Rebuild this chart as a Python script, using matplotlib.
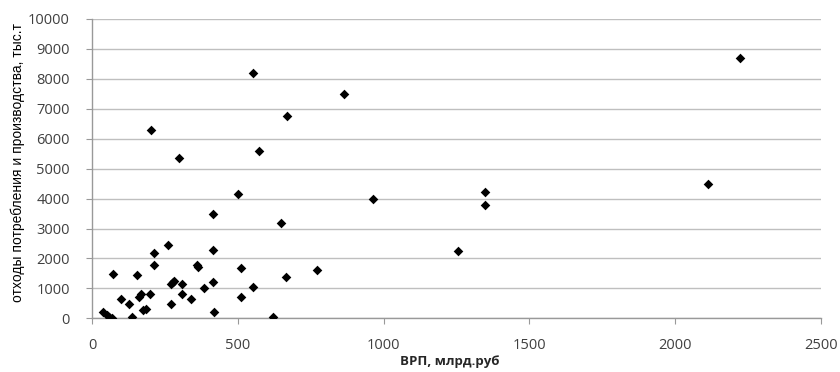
import matplotlib

matplotlib.use("Agg")
from matplotlib import pyplot as plt
from matplotlib import font_manager

# ВРП региона, млрд руб
grp = [
    2222, 553, 864, 202, 669, 574, 300, 500, 965, 1348,
    1348, 2113, 414, 649, 262, 416, 1256, 213, 211, 361,
    365, 510, 770, 73, 153, 666, 270, 281, 277, 307,
    416, 384, 553, 168, 162, 199, 307, 98, 128, 270,
    340, 510, 176, 185, 419, 622, 39, 50, 60, 67,
    136,
]
# отходы потребления и производства, тыс. т
waste = [
    8700, 8200, 7500, 6280, 6750, 5580, 5370, 4150, 3980, 4220,
    3800, 4500, 3480, 3170, 2450, 2290, 2250, 2170, 1780, 1790,
    1730, 1690, 1630, 1480, 1440, 1380, 1160, 1250, 1200, 1130,
    1200, 1010, 1050, 800, 720, 800, 810, 660, 480, 480,
    640, 720, 280, 310, 200, 50, 220, 110, 40, 10,
    50,
]

x_ticks = [0, 500, 1000, 1500, 2000, 2500]
y_ticks = list(range(0, 10001, 1000))

installed = {f.name for f in font_manager.fontManager.ttflist}
narrow = "Liberation Sans Narrow" if "Liberation Sans Narrow" in installed else "Liberation Sans"

W, H = 840, 372
fig = plt.figure(figsize=(W / 100, H / 100), dpi=100)
ax = fig.add_axes([92 / W, 1 - 318.3 / H, (821 - 92) / W, (318.3 - 19) / H])

grid_color = "#bfbfbf"
ax.scatter(grp, waste, marker="D", s=24, color="black", linewidths=0, zorder=3)

ax.set_xlim(0, 2500)
ax.set_ylim(0, 10000)
ax.set_xticks(x_ticks)
ax.set_yticks(y_ticks)
ax.grid(axis="y", color=grid_color, linewidth=1.0)
ax.set_axisbelow(True)

for side in ("top", "right"):
    ax.spines[side].set_visible(False)
for side in ("left", "bottom"):
    ax.spines[side].set_color("#999999")
    ax.spines[side].set_linewidth(1.0)

ax.tick_params(axis="both", direction="out", length=4, width=0.8, color="#999999",
               labelcolor="#404040", labelsize=10.5)
ax.tick_params(axis="x", pad=10)
ax.tick_params(axis="y", pad=12)
for lbl in ax.get_xticklabels() + ax.get_yticklabels():
    lbl.set_fontfamily("Open Sans")

fig.text(450 / W, 1 - 361 / H, "ВРП, млрд.руб", ha="center", va="center",
         fontsize=9.5, fontweight="bold", color="#262626", family="Open Sans")
fig.text(18 / W, 1 - 163 / H, "отходы потребления и производства, тыс.т",
         rotation=90, ha="center", va="center", fontsize=10, color="black",
         family=narrow)

fig.savefig("out.png", dpi=100)
